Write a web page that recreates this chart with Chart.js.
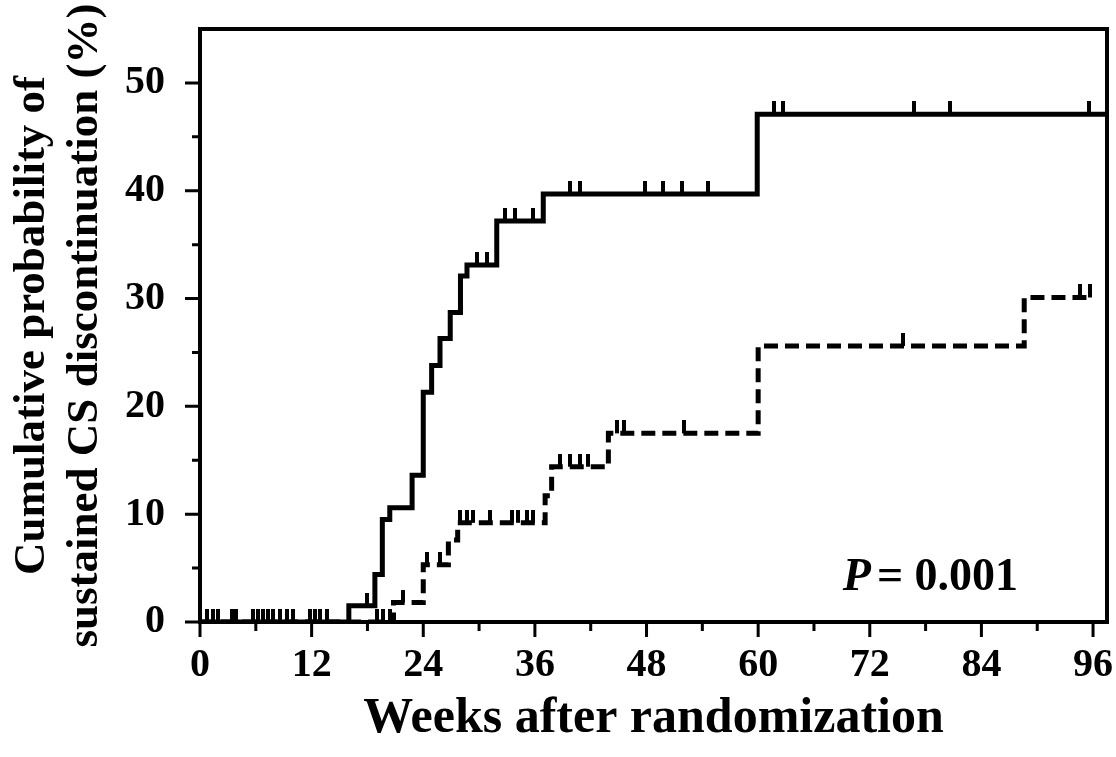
<!DOCTYPE html>
<html>
<head>
<meta charset="utf-8">
<script src="https://cdn.jsdelivr.net/npm/chart.js@4.4.1/dist/chart.umd.min.js"></script>
<style>
    html, body { margin: 0; padding: 0; background: #fff; }
    canvas { display: block; }
</style>
</head>
<body>
<canvas id="kmChart" width="1116" height="757"></canvas>
<script>
// step curves: week of event, cumulative % after the event
var solidWeeks = [0, 16, 18.8, 19.6, 20.4, 22.8, 24, 24.9, 25.8, 26.9, 28, 28.7, 31.9, 36.9, 59.9, 97.5];
var solidPct = [0, 1.5, 4.4, 9.5, 10.6, 13.6, 21.3, 23.8, 26.3, 28.7, 32.1, 33.1, 37.2, 39.7, 47.1, 47.1];

var dashedWeeks = [0, 20.8, 24, 26.7, 27.7, 37.1, 37.8, 43.9, 60, 88.6, 96];
var dashedPct = [0, 1.8, 5.3, 7.6, 9.2, 11.7, 14.4, 17.5, 25.6, 30.1, 30.1];

// censored observations (tick marks)
var solidCensorWeeks = [0.8, 1.4, 1.9, 3.4, 3.9, 5.7, 6.2, 6.8, 7.3, 7.8, 8.6, 9.4, 10, 11.8, 12.4, 12.9, 13.7,
    18, 29.8, 30.8, 32.8, 33.9, 35.8, 39.8, 40.9, 47.8, 49.8, 51.8, 54.6, 61.7, 62.7, 76.7, 80.6, 95.6];
var solidCensorPct = [0, 0, 0, 0, 0, 0, 0, 0, 0, 0, 0, 0, 0, 0, 0, 0, 0,
    1.5, 33.1, 33.1, 37.2, 37.2, 37.2, 39.7, 39.7, 39.7, 39.7, 39.7, 39.7, 47.1, 47.1, 47.1, 47.1, 47.1];

var dashedCensorWeeks = [19, 19.7, 20.4, 21.8, 24.4, 25.8, 28, 28.7, 29.4, 31.2, 33.5, 34.2, 35.2, 35.8,
    38.7, 39.8, 40.9, 41.7, 44.8, 45.6, 52, 75.6, 94.6, 95.7];
var dashedCensorPct = [0, 0, 0, 1.8, 5.3, 5.3, 9.2, 9.2, 9.2, 9.2, 9.2, 9.2, 9.2, 9.2,
    14.4, 14.4, 14.4, 14.4, 17.5, 17.5, 17.5, 25.6, 30.1, 30.1];

var xTickLabels = [0, 12, 24, 36, 48, 60, 72, 84, 96];
var yTickLabels = [0, 10, 20, 30, 40, 50];

var pValueText = '= 0.001';
var pValueWeek = 69.1;
var pValuePct = 3;

var serif = '"Liberation Serif", "Times New Roman", serif';

function toPoints(xs, ys) {
    return xs.map(function (x, i) { return { x: x, y: ys[i] }; });
}

// little vertical tick, drawn only above the point
var tickMark = document.createElement('canvas');
tickMark.width = 4;
tickMark.height = 26;
var tctx = tickMark.getContext('2d');
tctx.fillStyle = '#000';
tctx.fillRect(0, 0, 4, 13);

var framePlugin = {
    id: 'frame',
    afterDraw: function (chart) {
        var ctx = chart.ctx;
        var a = chart.chartArea;
        var xs = chart.scales.x;
        var ys = chart.scales.y;
        ctx.save();
        ctx.strokeStyle = '#000';
        ctx.lineWidth = 4;
        ctx.lineCap = 'square';
        ctx.strokeRect(a.left, a.top, a.right - a.left, a.bottom - a.top);

        ctx.lineWidth = 3;
        ctx.lineCap = 'butt';
        ctx.beginPath();
        for (var w = 0; w <= 96; w += 6) {
            var px = xs.getPixelForValue(w);
            ctx.moveTo(px, a.bottom);
            ctx.lineTo(px, a.bottom + (w % 12 === 0 ? 15 : 9));
        }
        for (var v = 0; v <= 50; v += 5) {
            var py = ys.getPixelForValue(v);
            ctx.moveTo(a.left, py);
            ctx.lineTo(a.left - (v % 10 === 0 ? 15 : 8), py);
        }
        ctx.stroke();

        var tx = xs.getPixelForValue(pValueWeek);
        var ty = ys.getPixelForValue(pValuePct);
        ctx.fillStyle = '#000';
        ctx.textBaseline = 'alphabetic';
        ctx.textAlign = 'left';
        ctx.font = 'italic bold 46px ' + serif;
        ctx.fillText('P', tx, ty);
        var pw = ctx.measureText('P').width;
        ctx.font = 'bold 46px ' + serif;
        ctx.fillText(pValueText, tx + pw + 6, ty);
        ctx.restore();
    }
};

new Chart(document.getElementById('kmChart'), {
    type: 'scatter',
    data: {
        datasets: [{
            data: toPoints(solidWeeks, solidPct),
            showLine: true,
            stepped: true,
            borderColor: '#000',
            borderWidth: 5,
            pointRadius: 0,
            fill: false
        }, {
            data: toPoints(dashedWeeks, dashedPct),
            showLine: true,
            stepped: true,
            borderColor: '#000',
            borderWidth: 5,
            borderDash: [14, 7],
            pointRadius: 0,
            fill: false
        }, {
            data: toPoints(solidCensorWeeks, solidCensorPct),
            showLine: false,
            pointStyle: tickMark,
            pointRadius: 6
        }, {
            data: toPoints(dashedCensorWeeks, dashedCensorPct),
            showLine: false,
            pointStyle: tickMark,
            pointRadius: 6
        }]
    },
    options: {
        responsive: false,
        animation: false,
        layout: { padding: { top: 29, right: 9, left: 0, bottom: 0 } },
        plugins: {
            legend: { display: false },
            tooltip: { enabled: false }
        },
        scales: {
            x: {
                type: 'linear',
                min: 0,
                max: 97.5,
                afterFit: function (scale) {
                    scale.height = 135;
                    scale.paddingLeft = 0;
                    scale.paddingRight = 0;
                },
                afterBuildTicks: function (scale) {
                    scale.ticks = xTickLabels.map(function (v) { return { value: v }; });
                },
                grid: { display: false },
                border: { display: false },
                ticks: {
                    autoSkip: false,
                    maxRotation: 0,
                    padding: 12,
                    color: '#000',
                    font: { family: serif, size: 40, weight: 'bold' }
                },
                title: {
                    display: true,
                    text: 'Weeks after randomization',
                    color: '#000',
                    font: { family: serif, size: 50, weight: 'bold' },
                    padding: { top: 0, bottom: 8 }
                }
            },
            y: {
                min: 0,
                max: 55,
                afterFit: function (scale) {
                    scale.width = 200;
                    scale.paddingTop = 0;
                    scale.paddingBottom = 0;
                },
                afterBuildTicks: function (scale) {
                    scale.ticks = yTickLabels.map(function (v) { return { value: v }; });
                },
                grid: { display: false },
                border: { display: false },
                ticks: {
                    padding: 27,
                    color: '#000',
                    font: { family: serif, size: 40, weight: 'bold' }
                },
                title: {
                    display: true,
                    text: ['Cumulative probability of', 'sustained CS discontinuation (%)'],
                    color: '#000',
                    font: { family: serif, size: 45, weight: 'bold', lineHeight: 1.18 },
                    padding: { top: 6, bottom: 0 }
                }
            }
        }
    },
    plugins: [framePlugin]
});
</script>
</body>
</html>
